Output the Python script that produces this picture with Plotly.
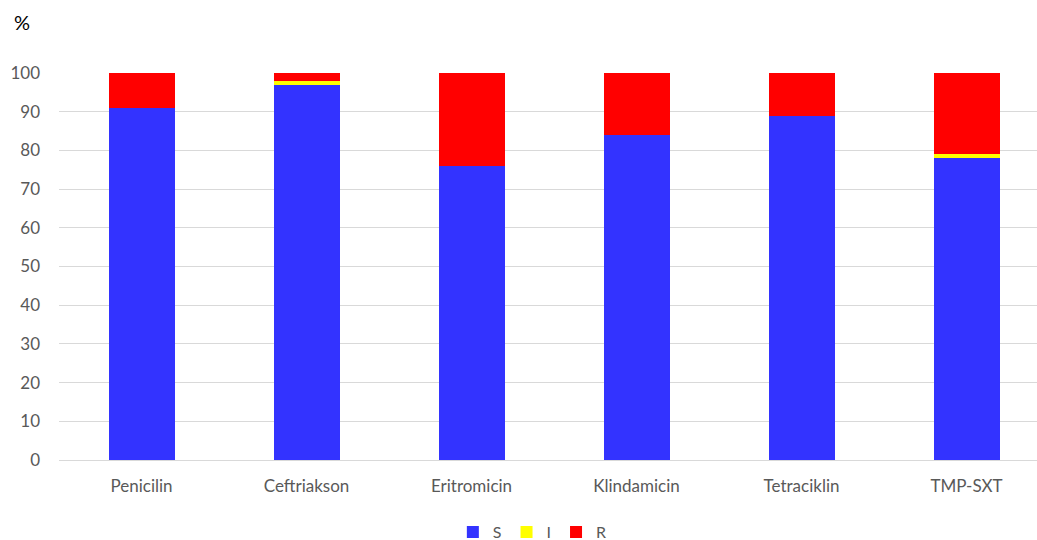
import plotly.graph_objects as go

categories = ["Penicilin", "Ceftriakson", "Eritromicin", "Klindamicin", "Tetraciklin", "TMP-SXT"]
s_values = [91, 97, 76, 84, 89, 78]
i_values = [0, 1, 0, 0, 0, 1]
r_values = [9, 2, 24, 16, 11, 21]
y_ticks = [0, 10, 20, 30, 40, 50, 60, 70, 80, 90, 100]

font_family = "Lato, Open Sans, Liberation Sans, sans-serif"
fig = go.Figure()
for name, vals, col in [("S", s_values, "#3333FF"), ("I", i_values, "#FFFF00"), ("R", r_values, "#FF0000")]:
    fig.add_trace(go.Bar(x=categories, y=vals, name=name, marker=dict(color=col, line=dict(width=0))))

fig.update_layout(
    barmode="stack",
    bargap=0.6,
    width=1037, height=540,
    margin=dict(l=59, r=0, t=73, b=80, autoexpand=False),
    plot_bgcolor="white", paper_bgcolor="white",
    font=dict(family=font_family, size=17, color="#595959"),
    showlegend=True,
    legend=dict(orientation="h", x=0.484, xanchor="center", y=-0.186, yanchor="middle",
                font=dict(size=16, color="#595959"), traceorder="normal", itemwidth=30),
    xaxis=dict(range=[-0.5, 5.427], showgrid=False, showline=False, ticks="", ticklabelstandoff=14,
               tickfont=dict(size=17)),
    yaxis=dict(range=[0, 100], tickvals=y_ticks, showgrid=True, gridcolor="#D9D9D9", gridwidth=1,
               zeroline=True, zerolinecolor="#D9D9D9", zerolinewidth=1, showline=False,
               ticks="", ticklabelstandoff=18, tickfont=dict(size=17)),
    annotations=[dict(text="%", xref="paper", yref="paper", x=-47/978, y=(460-22)/387,
                      xanchor="left", yanchor="middle", showarrow=False,
                      font=dict(size=20, color="#000000", family=font_family))],
)
fig.write_html("out.html")
